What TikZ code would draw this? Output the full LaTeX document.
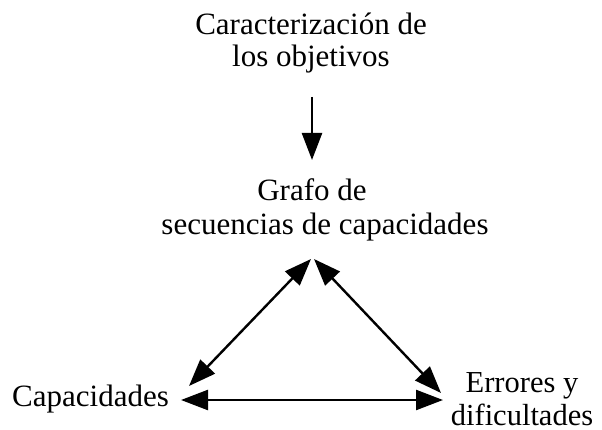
\documentclass[tikz,border=0pt]{standalone}
\usepackage{fontspec}
\setmainfont{Liberation Serif}
\usetikzlibrary{arrows.meta}
\begin{document}
\begin{tikzpicture}[x=1pt,y=-1pt,
  lbl/.style={inner sep=0pt,align=center,font=\fontsize{31}{34}\selectfont},
  arr/.style={line width=2.4pt,-{Triangle[length=27pt,width=20pt]}},
  darr/.style={line width=2.4pt,{Triangle[length=27pt,width=20pt]}-{Triangle[length=27pt,width=20pt]}}]
\useasboundingbox (0,0) rectangle (602,430);
\node[lbl,font=\fontsize{31}{32}\selectfont] (obj) at (311,43) {Caracterización de\\los objetivos};
\node[lbl] (grafo) at (325,210) {Grafo de\hspace*{26pt}\\secuencias de capacidades};
\node[lbl,anchor=base west] (cap) at (12,406) {Capacidades};
\node[lbl,font=\fontsize{30.5}{33}\selectfont] (err) at (522,399) {Errores y\\dificultades};
\coordinate (a1) at (312,97);
\coordinate (a2) at (312,160);
\coordinate (tl) at (311,259);
\coordinate (tr) at (314,259);
\coordinate (bl) at (189,386);
\coordinate (br) at (441,393);
\coordinate (hl) at (181,400);
\coordinate (hr) at (443,400);
\draw[arr] (a1) -- (a2);
\draw[darr] (bl) -- (tl);
\draw[darr] (br) -- (tr);
\draw[darr] (hl) -- (hr);
\end{tikzpicture}
\end{document}
